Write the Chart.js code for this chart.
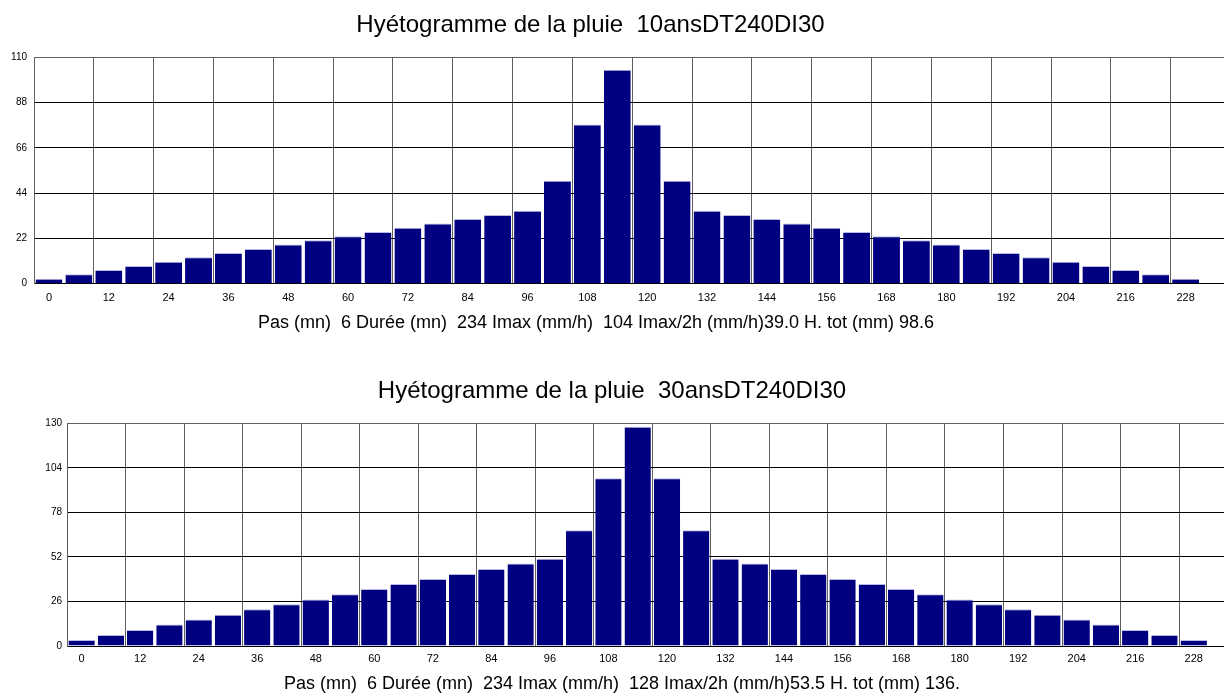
<!DOCTYPE html>
<html>
<head>
<meta charset="utf-8">
<script src="https://cdn.jsdelivr.net/npm/chart.js@4"></script>
<style>
  html, body { margin: 0; padding: 0; background: #fff; }
  canvas { display: block; }
</style>
</head>
<body>
<canvas id="c1" width="1224" height="365"></canvas>
<canvas id="c2" width="1224" height="330"></canvas>
<script>
// ---- data ----
const categories = [0,6,12,18,24,30,36,42,48,54,60,66,72,78,84,90,96,102,108,114,120,126,132,138,144,150,156,162,168,174,180,186,192,198,204,210,216,222,228];
const valuesT10 = [2.4,4.6,6.7,8.6,10.7,12.8,14.9,16.9,19.0,21.1,23.0,25.1,27.2,29.3,31.4,33.4,35.5,50.0,77.3,104,77.3,50.0,35.5,33.4,31.4,29.3,27.2,25.1,23.0,21.1,19.0,16.9,14.9,12.8,10.7,8.6,6.7,4.6,2.4];
const valuesT30 = [3.5,6.4,9.3,12.5,15.4,18.3,21.4,24.3,27.2,30.2,33.3,36.2,39.1,42.0,45.0,48.1,51.0,67.5,97.9,128,97.9,67.5,51.0,48.1,45.0,42.0,39.1,36.2,33.3,30.2,27.2,24.3,21.4,18.3,15.4,12.5,9.3,6.4,3.5];
const xTickLabels = [0,12,24,36,48,60,72,84,96,108,120,132,144,156,168,180,192,204,216,228];
const yTicksT10 = [0,22,44,66,88,110];
const yTicksT30 = [0,26,52,78,104,130];
const titleT10 = 'Hyétogramme de la pluie  10ansDT240DI30';
const titleT30 = 'Hyétogramme de la pluie  30ansDT240DI30';
const infoT10 = 'Pas (mn)  6 Durée (mn)  234 Imax (mm/h)  104 Imax/2h (mm/h)39.0 H. tot (mm) 98.6';
const infoT30 = 'Pas (mn)  6 Durée (mn)  234 Imax (mm/h)  128 Imax/2h (mm/h)53.5 H. tot (mm) 136.';
const STEP = 6;

// ---- rendering ----
const FONT = "'Liberation Sans', Arial, sans-serif";
const gridBounds = xTickLabels.map(v => v - STEP / 2);

function makeChart(id, values, yTicks, title, info, L) {
  const yMax = yTicks[yTicks.length - 1];
  const shiftText = {
    id: 'shiftText',
    afterLayout(chart) {
      for (const b of chart.boxes) {
        if (b.options && typeof b.options.text === 'string') {
          const dx = b.position === 'top' ? L.tDx : L.sDx;
          b.left += dx; b.right += dx;
        }
      }
    }
  };
  return new Chart(document.getElementById(id), {
    type: 'bar',
    plugins: [shiftText],
    data: {
      datasets: [{
        data: values.map((v, i) => ({ x: categories[i], y: v })),
        backgroundColor: '#000080',
        borderColor: '#b8b8e0',
        borderWidth: { top: 1, left: 0, right: 0, bottom: 0 },
        borderSkipped: 'start',
        barPercentage: 0.9,
        categoryPercentage: 1.0
      }]
    },
    options: {
      responsive: false,
      devicePixelRatio: 1,
      animation: false,
      layout: { padding: 0 },
      plugins: {
        legend: { display: false },
        tooltip: { enabled: false },
        title: {
          display: true, text: title, color: '#000',
          font: { family: FONT, size: 24, weight: 'normal' },
          padding: { top: L.tTop, bottom: L.tBot }
        },
        subtitle: {
          display: true, text: info, position: 'bottom', color: '#000',
          font: { family: FONT, size: 18, weight: 'normal' },
          padding: { top: L.sTop, bottom: L.sBot }
        }
      },
      scales: {
        x: {
          type: 'linear', position: 'bottom',
          min: -STEP / 2, max: L.xMax,
          offset: false,
          afterFit: s => { s.height = L.xH; },
          grid: { display: false, offset: false, drawTicks: false },
          border: { display: true, color: '#000', width: 1 },
          afterBuildTicks: s => { s.ticks = xTickLabels.map(v => ({ value: v })); },
          ticks: {
            autoSkip: false, maxRotation: 0, padding: L.xPad, color: '#000',
            font: { family: FONT, size: 11 },
            callback: v => String(v)
          }
        },
        xg: {
          type: 'linear', position: 'top',
          min: -STEP / 2, max: L.xMax,
          offset: false,
          grid: { display: true, offset: false, drawTicks: false, color: '#606060', lineWidth: 1 },
          border: { display: false },
          afterBuildTicks: s => { s.ticks = gridBounds.map(v => ({ value: v })); },
          ticks: { display: false }
        },
        y: {
          type: 'linear', position: 'left',
          min: 0, max: yMax,
          afterBuildTicks: s => { s.ticks = yTicks.map(v => ({ value: v })); },
          afterFit: s => { s.width = L.yW; },
          grid: {
            drawTicks: false, lineWidth: 1,
            color: c => (c.tick && c.tick.value === yMax) ? '#606060' : '#000'
          },
          border: { display: true, color: '#606060', width: 1 },
          ticks: {
            padding: L.yPad, color: '#000',
            font: { family: FONT, size: 10 },
            callback: v => String(v)
          }
        }
      }
    }
  });
}

makeChart('c1', valuesT10, yTicksT10, titleT10, infoT10,
  { tTop: 10.6, tBot: 17.9, sTop: 8.3, sBot: 31.5, xPad: 8, xH: 19.9, yPad: 7, yW: 34, xMax: 235.7, tDx: -21.5, sDx: -16 });
makeChart('c2', valuesT30, yTicksT30, titleT30, infoT30,
  { tTop: 11.9, tBot: 17.6, sTop: 9.3, sBot: 0.2, xPad: 6, xH: 17.9, yPad: 5, yW: 67, xMax: 234.2, tDx: 0, sDx: 10 });
</script>
</body>
</html>
